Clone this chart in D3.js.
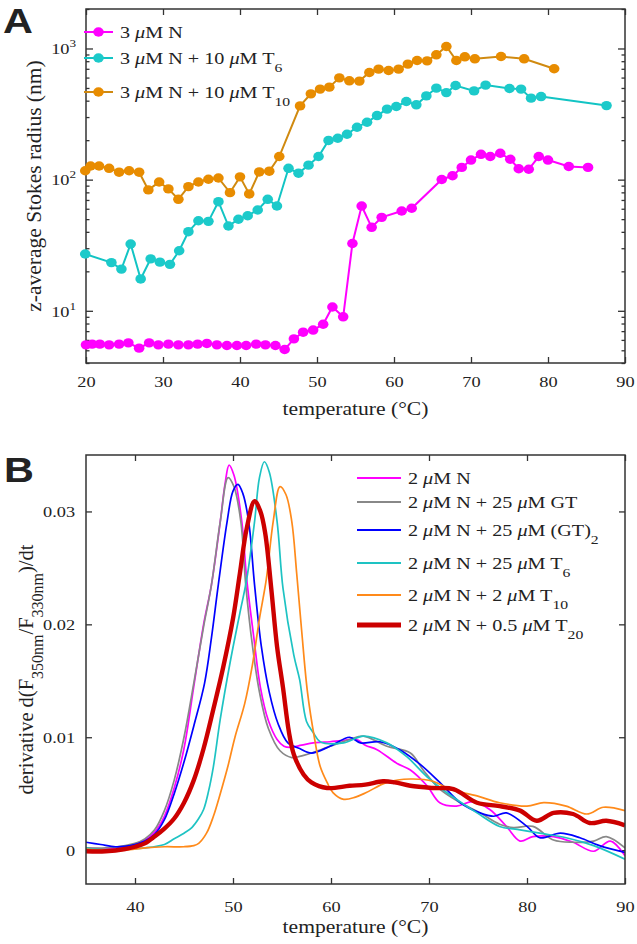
<!DOCTYPE html>
<html><head><meta charset="utf-8">
<script src="https://cdn.jsdelivr.net/npm/d3@7"></script>
<style>
body{margin:0;background:#fff}
svg{display:block}
text{font-family:"Liberation Serif","Times New Roman",serif;fill:#222}
</style>
</head><body>
<svg id="c" width="637" height="944"></svg>
<script>
// ---------- Panel A data (z-average Stokes radius, nm) ----------
const tempA_N = [20.0,20.8,21.8,23.0,24.3,25.5,26.9,28.2,29.4,30.7,32.0,33.3,34.5,35.7,37.0,38.3,39.6,40.8,42.1,43.3,44.6,45.8,47.0,48.2,49.5,50.8,52.0,53.4,54.6,55.8,57.1,58.4,61.0,62.3,66.2,67.6,68.8,70.0,71.3,72.5,73.8,75.1,76.2,77.5,78.8,80.0,82.7,85.2];
const radiusA_N = [5.5,5.57,5.57,5.5,5.57,5.7,5.19,5.7,5.5,5.57,5.5,5.5,5.57,5.64,5.5,5.44,5.44,5.44,5.57,5.5,5.44,5.07,6.11,6.87,7.13,7.9,10.7,9.0,32.6,63,43.3,51.6,57.7,60.5,100.3,107,124,141,156,150,159,143,121,120,150,141,126,124];
const tempA_T6 = [19.9,23.3,24.6,25.8,27.1,28.4,29.6,30.9,32.1,33.3,34.6,35.9,37.2,38.5,39.8,41.0,42.3,43.6,44.8,46.3,47.6,48.9,50.2,51.5,52.7,53.9,55.2,56.5,57.8,59.1,60.3,61.6,62.9,64.2,65.5,66.8,68.0,70.4,71.9,75.0,76.5,77.8,79.1,87.6];
const radiusA_T6 = [27.1,23.3,20.8,32.3,17.5,24.9,23.5,22.6,28.7,40.1,48.6,48.1,67.9,44.3,49.9,53.1,58.7,70.8,63,122,112,129,150,199,207,222,251,274,308,345,361,394,372,435,499,461,522,475,526,495,490,418,430,367];
const tempA_T10 = [19.9,20.6,21.7,23.0,24.3,25.6,26.9,28.1,29.5,30.7,32.0,33.3,34.6,35.9,37.2,38.7,40.0,41.2,42.5,43.8,45.1,47.8,49.2,50.4,51.6,52.9,54.2,55.5,56.8,58.0,59.3,60.6,61.8,63.0,64.3,65.5,66.8,68.1,69.2,70.5,73.9,76.9,80.8];
const radiusA_T10 = [117,127,127,122,114,117,114,83.5,96,85,70.8,88.4,96,100.7,103,79.6,105,77.8,114.5,116,150,365,451,490,507,597,567,564,656,696,679,696,760,810,805,895,1036,810,864,834,869,834,700];
const xTicksA = [20,30,40,50,60,70,80,90];
const yMajorA = [10,100,1000];

// ---------- Panel B data (derivative d(F350/F330)/dt) ----------
const tempB_N = [35,37,39,41,42,43,44,45,46,47,47.8,48.7,49.2,49.6,50.1,50.9,51.4,52.1,52.8,53.6,54.5,55.2,55.8,57,58.2,59.9,61,62.6,63.5,64.7,66.7,68.1,69.8,71.1,72.8,74.5,76.2,77.9,79.3,80.6,82.7,84.7,86.8,88.5,90];
const derivB_N = [0.0002,0.0001,0.0003,0.0009,0.0016,0.0030,0.0055,0.0090,0.0145,0.0200,0.0235,0.0291,0.0325,0.0341,0.0332,0.0291,0.0240,0.0190,0.0144,0.0115,0.0098,0.0092,0.0091,0.0093,0.0095,0.0096,0.0097,0.0098,0.0093,0.0089,0.0077,0.0071,0.0057,0.0042,0.0039,0.0043,0.0036,0.0021,0.0008,0.0012,0.0012,0.0007,-0.0001,0.0008,-0.0005];
const tempB_GT = [35,37,39,40,41,42,43,44,45,46,47,47.8,48.7,49.5,50.1,50.8,51.3,52.0,52.7,53.6,54.8,56.0,56.8,58,59.6,61.9,63.3,65.7,68.1,69.4,71.1,73.2,75.2,77.2,78.6,80.6,82.7,84.7,86.8,88.1,90];
const derivB_GT = [0.0002,0.0002,0.0004,0.0006,0.0010,0.0018,0.0035,0.0062,0.0100,0.0148,0.0198,0.0235,0.0291,0.0330,0.0322,0.0291,0.0235,0.0180,0.0140,0.0108,0.0088,0.0082,0.0083,0.0086,0.0091,0.0098,0.0101,0.0092,0.0086,0.0071,0.0054,0.0042,0.0033,0.0023,0.0020,0.0021,0.0009,0.0007,0.0008,0.0012,0.0002];
const tempB_GT2 = [35,36.5,38,39.5,41,42,43,44,45,46,47.1,47.8,48.5,49.4,50.0,50.5,51.0,51.6,52.2,52.9,53.7,54.6,55.6,56.8,58.0,59.9,61.9,63.0,65.0,67.0,69.1,71.1,73.2,75.2,76.6,77.9,80.0,81.3,83.4,85.4,87.4,90];
const derivB_GT2 = [0.0007,0.0005,0.0003,0.0004,0.0008,0.0014,0.0027,0.0050,0.0078,0.0110,0.0148,0.0188,0.0235,0.0291,0.0318,0.0324,0.0316,0.0291,0.0235,0.0180,0.0140,0.0112,0.0095,0.0090,0.0086,0.0092,0.0100,0.0095,0.0096,0.0089,0.0076,0.0060,0.0042,0.0033,0.0030,0.0033,0.0021,0.0011,0.0015,0.0011,0.0004,-0.0002];
const tempB_T6 = [35,37,39,41,43,44,45,45.8,46.5,47,47.5,48,48.7,49.7,50.7,51.4,52.2,52.7,53.2,53.7,54.5,55.1,56.2,56.8,57.5,58.2,58.9,61.3,63.3,65.7,67.7,69.8,71.8,74.9,77.2,79.3,81.3,84,86.8,90];
const derivB_T6 = [0.0002,0.0000,0.0001,0.0002,0.0005,0.0010,0.0015,0.0020,0.0028,0.0036,0.0052,0.0074,0.0116,0.0166,0.0210,0.0240,0.0291,0.0330,0.0344,0.0335,0.0291,0.0232,0.0173,0.0151,0.0114,0.0104,0.0096,0.0095,0.0101,0.0095,0.0083,0.0065,0.0051,0.0033,0.0021,0.0018,0.0015,0.0011,0.0004,-0.0008];
const tempB_T10 = [35,37,39,41,43,45,46,46.5,47.3,48,48.7,49.5,50.2,51.2,52.0,52.7,53.4,54.1,54.8,55.4,56.0,56.5,57.0,57.6,58.3,58.9,59.6,60.2,61.3,62.5,63.6,65.7,68.1,70.4,72.1,74.9,77.2,80,81.7,84,86.1,87.8,90];
const derivB_T10 = [0.0001,0.0000,0.0000,0.0002,0.0003,0.0003,0.0004,0.0006,0.0015,0.0030,0.0050,0.0075,0.0100,0.0130,0.0165,0.0205,0.0240,0.0291,0.0322,0.0315,0.0291,0.0245,0.0195,0.0140,0.0100,0.0074,0.0060,0.0051,0.0045,0.0047,0.0051,0.0060,0.0063,0.0061,0.0054,0.0048,0.0042,0.0039,0.0042,0.0039,0.0032,0.0038,0.0035];
const tempB_T20 = [35,37,39,40,41,42,43,44,45,46,47,48,49,50,50.7,51.4,52.2,52.8,53.3,53.9,54.5,55.1,55.7,56.2,57.2,58,59.6,61.9,63.5,65.3,66.5,68.1,70.4,72.5,74.9,77.2,79.3,81.0,82.7,84.7,86.4,88.1,90];
const derivB_T20 = [-0.0001,-0.0001,0.0001,0.0003,0.0006,0.0012,0.0019,0.0028,0.0042,0.0062,0.0090,0.0125,0.0162,0.0205,0.0245,0.0285,0.0309,0.0300,0.0280,0.0232,0.0180,0.0144,0.0105,0.0085,0.0067,0.0060,0.0055,0.0057,0.0058,0.0061,0.0060,0.0057,0.0055,0.0054,0.0042,0.0039,0.0035,0.0026,0.0033,0.0032,0.0024,0.0026,0.0022];
const xTicksB = [40,50,60,70,80,90];
const yTicksB = [0,0.01,0.02,0.03];

// ---------- drawing ----------
const svg = d3.select("#c");
const SX = 1.18;           // horizontal glyph stretch seen in the reference
const FT = 15.5;           // tick labels
const FL = 18.3;           // axis labels
const FG = 17.1;           // legend text
const frameColor = "#333";

function richText(sel, segs, fs){
  segs.forEach(s=>{
    const t = sel.append("tspan").text(s.t);
    if(s.i) t.attr("font-style","italic");
    if(s.sub){ t.attr("font-size", fs*0.78).attr("dy", fs*0.5); }
    if(s.sup){ t.attr("font-size", fs*0.72).attr("dy", -fs*0.45); }
    if(s.back){ t.attr("dy", s.back); }
  });
}
function hText(parent, x, y, fs, anchor){
  return parent.append("text").attr("transform",`translate(${x},${y}) scale(${SX},1)`)
    .attr("font-size",fs).attr("text-anchor",anchor||"start");
}

function styleAxis(g){
  g.select(".domain").remove();
  g.selectAll(".tick line").attr("stroke",frameColor).attr("stroke-width",1.3);
  g.selectAll(".tick text").attr("font-size",FT).attr("fill","#222")
    .attr("font-family","'Liberation Serif','Times New Roman',serif")
    .attr("transform",`scale(${SX},1)`);
}

// ===== Panel A =====
const A = {l:86, r:625, t:9, b:363};
const xA = d3.scaleLinear().domain([20,90]).range([A.l,A.r]);
const yA = d3.scaleLog().domain([4,2000]).range([A.b,A.t]);
const gA = svg.append("g");

const minorA = [];
[1,10,100,1000].forEach(d=>{ for(let k=2;k<=9;k++){ const v=d*k; if(v>=4 && v<=2000) minorA.push(v);} });

gA.append("g").attr("transform",`translate(0,${A.b})`)
  .call(d3.axisBottom(xA).tickValues(xTicksA).tickSize(-6).tickPadding(13).tickFormat(d3.format("d")))
  .call(styleAxis);
gA.append("g").attr("transform",`translate(0,${A.t})`)
  .call(d3.axisTop(xA).tickValues(xTicksA).tickSize(-6).tickFormat(""))
  .call(styleAxis);
gA.append("g").attr("transform",`translate(${A.l},0)`)
  .call(d3.axisLeft(yA).tickValues(minorA).tickSize(-3.5).tickFormat(""))
  .call(styleAxis);
gA.append("g").attr("transform",`translate(${A.r},0)`)
  .call(d3.axisRight(yA).tickValues(minorA).tickSize(-3.5).tickFormat(""))
  .call(styleAxis);
gA.append("g").attr("transform",`translate(${A.r},0)`)
  .call(d3.axisRight(yA).tickValues(yMajorA).tickSize(-7).tickFormat(""))
  .call(styleAxis);
const yAxA = gA.append("g").attr("transform",`translate(${A.l},0)`)
  .call(d3.axisLeft(yA).tickValues(yMajorA).tickSize(-7).tickFormat(""))
  .call(styleAxis);
yAxA.selectAll(".tick").each(function(d){
  const t = d3.select(this).append("text").attr("transform",`translate(-10,0) scale(${SX},1)`).attr("dy","0.34em")
    .attr("text-anchor","end").attr("font-size",FT).attr("fill","#222");
  richText(t,[{t:"10"},{t:String(Math.round(Math.log10(d))),sup:true}],FT);
});
gA.append("rect").attr("x",A.l).attr("y",A.t).attr("width",A.r-A.l).attr("height",A.b-A.t)
  .attr("fill","none").attr("stroke",frameColor).attr("stroke-width",1.5);

const seriesA = [
  {x:tempA_N, y:radiusA_N, line:"#ff00ff", fill:"#ff00ff"},
  {x:tempA_T6, y:radiusA_T6, line:"#12c4c4", fill:"#1ccaca"},
  {x:tempA_T10, y:radiusA_T10, line:"#d08a10", fill:"#e88c00"}
];
const lineA = d3.line().x(d=>xA(d[0])).y(d=>yA(d[1]));
seriesA.forEach(s=>{
  const pts = s.x.map((t,i)=>[t,s.y[i]]);
  gA.append("path").attr("d",lineA(pts)).attr("fill","none").attr("stroke",s.line).attr("stroke-width",2);
  gA.append("g").selectAll("ellipse").data(pts).join("ellipse")
    .attr("cx",d=>xA(d[0])).attr("cy",d=>yA(d[1])).attr("rx",5.3).attr("ry",4.7).attr("fill",s.fill);
});

// legend A
const legA = [
  {segs:[{t:"3 "},{t:"μ",i:true},{t:"M N"}], y:32},
  {segs:[{t:"3 "},{t:"μ",i:true},{t:"M N + 10 "},{t:"μ",i:true},{t:"M T"},{t:"6",sub:true}], y:58},
  {segs:[{t:"3 "},{t:"μ",i:true},{t:"M N + 10 "},{t:"μ",i:true},{t:"M T"},{t:"10",sub:true}], y:92}
];
legA.forEach((L,i)=>{
  const s = seriesA[i];
  gA.append("line").attr("x1",84).attr("x2",113).attr("y1",L.y).attr("y2",L.y).attr("stroke",s.line).attr("stroke-width",2);
  gA.append("ellipse").attr("cx",98.5).attr("cy",L.y).attr("rx",5.3).attr("ry",4.7).attr("fill",s.fill);
  const t = hText(gA,120,L.y,FG).attr("dy","0.34em");
  richText(t,L.segs,FG);
});

gA.append("text").attr("transform",`translate(41,${(A.t+A.b)/2}) rotate(-90)`)
  .attr("text-anchor","middle").attr("font-size",21.5).text("z-average Stokes radius (nm)");
hText(gA,(A.l+A.r)/2,415,FL,"middle").text("temperature (°C)");
svg.append("text").attr("transform","translate(3,33) scale(1.15,1)").attr("font-size",36).attr("font-weight","bold")
  .style("font-family","'Liberation Sans',Arial,sans-serif").attr("fill","#000").text("A");

// ===== Panel B =====
const B = {l:86, r:625, t:455, b:884};
const xB = d3.scaleLinear().domain([35,90]).range([B.l,B.r]);
const yB = d3.scaleLinear().domain([-0.003,0.035]).range([B.b,B.t]);
const gB = svg.append("g");
gB.append("g").attr("transform",`translate(0,${B.b})`)
  .call(d3.axisBottom(xB).tickValues(xTicksB).tickSize(-6).tickPadding(17).tickFormat(d3.format("d")))
  .call(styleAxis);
gB.append("g").attr("transform",`translate(0,${B.t})`)
  .call(d3.axisTop(xB).tickValues(xTicksB).tickSize(-6).tickFormat(""))
  .call(styleAxis);
gB.append("g").attr("transform",`translate(${B.l},0)`)
  .call(d3.axisLeft(yB).tickValues(yTicksB).tickSize(-6).tickPadding(9.3).tickFormat(d=>d===0?"0":d.toFixed(2)))
  .call(styleAxis);
gB.append("g").attr("transform",`translate(${B.r},0)`)
  .call(d3.axisRight(yB).tickValues(yTicksB).tickSize(-6).tickFormat(""))
  .call(styleAxis);

svg.append("defs").append("clipPath").attr("id","clipB").append("rect")
  .attr("x",B.l).attr("y",B.t).attr("width",B.r-B.l).attr("height",B.b-B.t);

const seriesB = [
  {x:tempB_N, y:derivB_N, c:"#ff00ff", w:1.7, segs:[{t:"2 "},{t:"μ",i:true},{t:"M N"}]},
  {x:tempB_GT, y:derivB_GT, c:"#888888", w:1.7, segs:[{t:"2 "},{t:"μ",i:true},{t:"M N + 25 "},{t:"μ",i:true},{t:"M GT"}]},
  {x:tempB_GT2, y:derivB_GT2, c:"#0000ff", w:1.7, segs:[{t:"2 "},{t:"μ",i:true},{t:"M N + 25 "},{t:"μ",i:true},{t:"M (GT)"},{t:"2",sub:true}]},
  {x:tempB_T6, y:derivB_T6, c:"#1ec3c3", w:1.7, segs:[{t:"2 "},{t:"μ",i:true},{t:"M N + 25 "},{t:"μ",i:true},{t:"M T"},{t:"6",sub:true}]},
  {x:tempB_T10, y:derivB_T10, c:"#ff8a1a", w:1.7, segs:[{t:"2 "},{t:"μ",i:true},{t:"M N + 2 "},{t:"μ",i:true},{t:"M T"},{t:"10",sub:true}]},
  {x:tempB_T20, y:derivB_T20, c:"#cc0000", w:4.4, segs:[{t:"2 "},{t:"μ",i:true},{t:"M N + 0.5 "},{t:"μ",i:true},{t:"M T"},{t:"20",sub:true}]}
];
const lineB = d3.line().x(d=>xB(d[0])).y(d=>yB(d[1])).curve(d3.curveCatmullRom.alpha(0.5));
const linesG = gB.append("g").attr("clip-path","url(#clipB)");
seriesB.forEach(s=>{
  const pts = s.x.map((t,i)=>[t,s.y[i]]);
  linesG.append("path").attr("d",lineB(pts)).attr("fill","none").attr("stroke",s.c)
    .attr("stroke-width",s.w).attr("stroke-linejoin","round");
});
gB.append("rect").attr("x",B.l).attr("y",B.t).attr("width",B.r-B.l).attr("height",B.b-B.t)
  .attr("fill","none").attr("stroke",frameColor).attr("stroke-width",1.5);

const legYB = [478,502,530,563,595,625];
seriesB.forEach((s,i)=>{
  const y = legYB[i];
  gB.append("line").attr("x1",357).attr("x2",401).attr("y1",y).attr("y2",y).attr("stroke",s.c).attr("stroke-width",s.w<2?2.2:5);
  const t = hText(gB,408,y,FG).attr("dy","0.34em");
  richText(t,s.segs,FG);
});

const yl = gB.append("text").attr("transform",`translate(33,${(B.t+B.b)/2}) rotate(-90)`)
  .attr("text-anchor","middle").attr("font-size",20.5);
richText(yl,[{t:"derivative d(F"},{t:"350nm",sub:true},{t:"/F",back:-20.5*0.5},{t:"330nm",sub:true},{t:")/dt",back:-20.5*0.5}],20.5);
hText(gB,(B.l+B.r)/2,933,FL,"middle").text("temperature (°C)");
svg.append("text").attr("transform","translate(4,482) scale(1.15,1)").attr("font-size",36).attr("font-weight","bold")
  .style("font-family","'Liberation Sans',Arial,sans-serif").attr("fill","#000").text("B");
</script>
</body></html>
